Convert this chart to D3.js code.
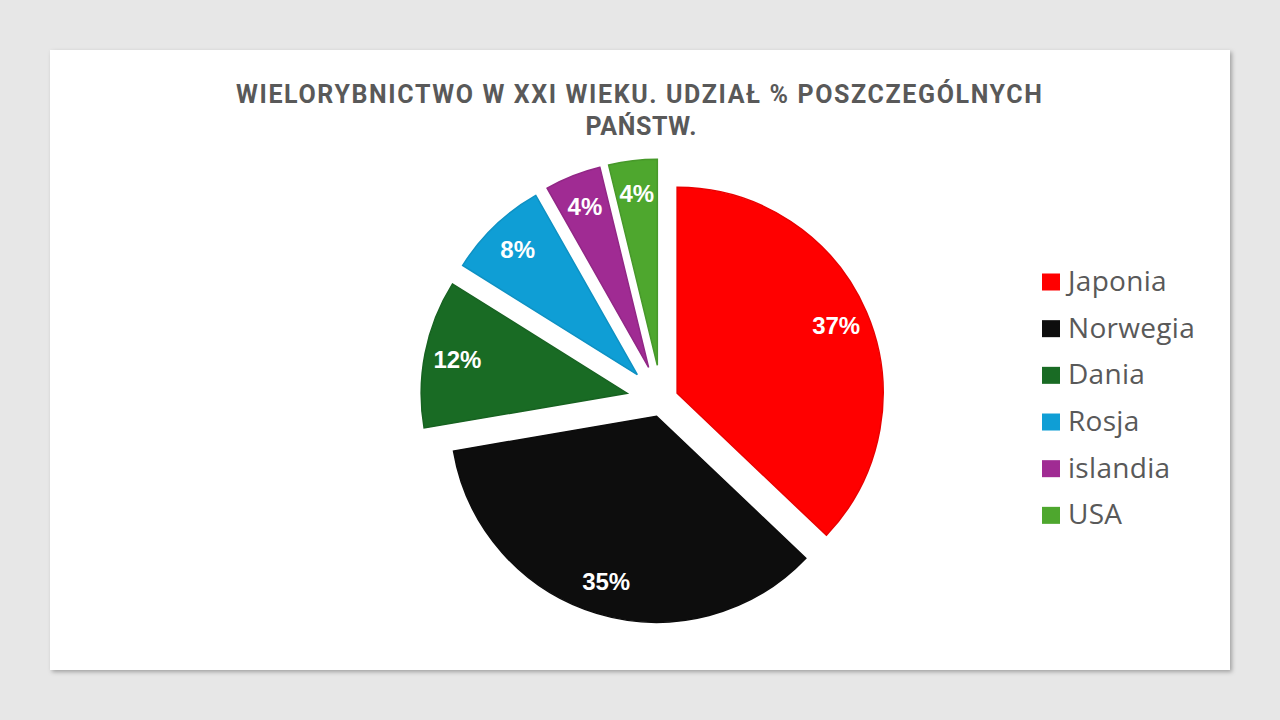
<!DOCTYPE html>
<html>
<head>
<meta charset="utf-8">
<script src="https://cdn.jsdelivr.net/npm/d3@7"></script>
<style>
  html, body { margin: 0; padding: 0; background: #e7e7e7; }
  svg { display: block; }
</style>
</head>
<body>
<svg id="chart"></svg>
<script>
// Data
const countries = ["Japonia", "Norwegia", "Dania", "Rosja", "islandia", "USA"];
const shares = [37.1, 35.2, 11.6, 7.9, 4.4, 3.8];
const colors = ["#ff0000", "#0d0d0d", "#196b24", "#0f9ed5", "#a02b93", "#4ea72e"];
const titleLines = ["WIELORYBNICTWO W XXI WIEKU. UDZIAŁ % POSZCZEGÓLNYCH", "PAŃSTW."];

const width = 1280, height = 720;
const svg = d3.select("#chart").attr("width", width).attr("height", height);

// shadow for the card
const defs = svg.append("defs");
const f = defs.append("filter").attr("id", "shadow")
  .attr("x", "-5%").attr("y", "-5%").attr("width", "110%").attr("height", "110%");
f.append("feDropShadow").attr("dx", 2).attr("dy", 2).attr("stdDeviation", 2)
  .attr("flood-color", "#000").attr("flood-opacity", 0.3);

svg.append("rect")
  .attr("x", 50).attr("y", 50).attr("width", 1180).attr("height", 620)
  .attr("fill", "#fff").attr("filter", "url(#shadow)");

// title, fitted to the original width
const title = svg.append("text")
  .attr("text-anchor", "middle")
  .attr("font-family", "Roboto, 'Liberation Sans', sans-serif")
  .attr("font-weight", "bold")
  .attr("font-size", 25)
  .attr("fill", "#595959");
title.append("tspan").attr("x", 639).attr("y", 103).text(titleLines[0])
  .attr("textLength", 806).attr("lengthAdjust", "spacing");
title.append("tspan").attr("x", 641).attr("y", 135).text(titleLines[1])
  .attr("textLength", 111).attr("lengthAdjust", "spacing");

// pie
const cx = 661.5, cy = 400, radius = 206;
const explode = [17, 17, 35, 35, 35, 35]; // per-slice explosion distance

const total = d3.sum(shares);
const pie = d3.pie().sort(null).value(d => d)(shares);
const arc = d3.arc().innerRadius(0).outerRadius(radius);
const color = d3.scaleOrdinal().domain(countries).range(colors);
const fmt = d3.format(".0%");

const g = svg.append("g").attr("transform", `translate(${cx},${cy})`);

const slices = g.selectAll("g.slice")
  .data(pie)
  .join("g")
  .attr("class", "slice")
  .attr("transform", (d, i) => {
    const a = (d.startAngle + d.endAngle) / 2;
    return `translate(${explode[i] * Math.sin(a)},${-explode[i] * Math.cos(a)})`;
  });

slices.append("path")
  .attr("d", arc)
  .attr("fill", (d, i) => color(countries[i]))
  .attr("stroke", (d, i) => d3.color(color(countries[i])).darker(0.25))
  .attr("stroke-width", 1.5);

slices.append("text")
  .attr("transform", d => {
    const a = (d.startAngle + d.endAngle) / 2;
    const r = radius * 0.84;
    return `translate(${r * Math.sin(a)},${-r * Math.cos(a)})`;
  })
  .attr("text-anchor", "middle")
  .attr("dy", "0.36em")
  .attr("font-family", "'Liberation Sans', Arial, sans-serif")
  .attr("font-weight", "bold")
  .attr("font-size", 24)
  .attr("fill", "#fff")
  .text(d => fmt(d.value / total));

// legend
const legend = svg.append("g").attr("transform", "translate(1042,0)");
const rows = legend.selectAll("g")
  .data(countries)
  .join("g")
  .attr("transform", (d, i) => `translate(0,${282 + i * 46.67})`);

rows.append("rect")
  .attr("x", 0).attr("y", -8.5).attr("width", 18).attr("height", 17)
  .attr("fill", d => color(d));

rows.append("text")
  .attr("x", 26).attr("y", 9)
  .attr("font-family", "'Open Sans', 'Noto Sans', sans-serif")
  .attr("font-size", 28)
  .attr("letter-spacing", 0.3)
  .attr("fill", "#595959")
  .text(d => d);
</script>
</body>
</html>
